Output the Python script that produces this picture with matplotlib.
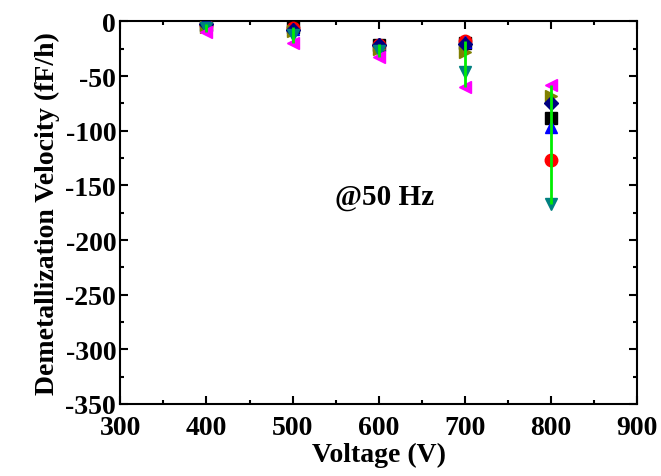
import matplotlib.pyplot as plt
from matplotlib.ticker import MultipleLocator

plt.rcParams['font.family'] = 'Liberation Serif'
plt.rcParams['font.weight'] = 'bold'
plt.rcParams['axes.unicode_minus'] = False

voltage = [400, 500, 600, 700, 800]

# demetallization velocity (fF/h) per sample
s_square = [-3, -5, -22, -20, -88]
s_circle = [-3, -6, -22, -18, -127]
s_uptri = [-2, -7, -21, -19, -97]
s_diamond = [-2, -8, -22, -21, -75]
s_right = [-5, -9, -25, -28, -68]
s_down = [-6, -12, -27, -46, -167]
s_left = [-10, -20, -33, -60, -58]

series = [
    (s_square, 's', 'black'),
    (s_circle, 'o', 'red'),
    (s_uptri, '^', 'blue'),
    (s_right, '>', '#808000'),
    (s_diamond, 'D', '#000080'),
    (s_down, 'v', '#008080'),
    (s_left, '<', 'magenta'),
]

fig, ax = plt.subplots(figsize=(6.61, 4.77), dpi=100)
fig.subplots_adjust(left=0.182, right=0.964, top=0.953, bottom=0.151)

for vals, m, c in series:
    ax.plot(voltage, vals, linestyle='none', marker=m, color=c,
            markersize=9 if m != 'D' else 7, zorder=3)

# range line (green) from max to min at every voltage
all_vals = [s[0] for s in series]
tops = [max(v[i] for v in all_vals) for i in range(len(voltage))]
bots = [min(v[i] for v in all_vals) for i in range(len(voltage))]
ax.vlines(voltage, bots, tops, color='#00ee00', linewidth=2, zorder=4)

ax.text(607, -160, '@50 Hz', fontsize=21, fontweight='bold', ha='center', va='center')

ax.set_xlim(300, 900)
ax.set_ylim(-350, 0)
ax.xaxis.set_major_locator(MultipleLocator(100))
ax.xaxis.set_minor_locator(MultipleLocator(50))
ax.yaxis.set_major_locator(MultipleLocator(50))
ax.yaxis.set_minor_locator(MultipleLocator(25))
ax.tick_params(which='both', direction='in', top=True, right=True, labelsize=20, width=1.5)
ax.tick_params(which='major', length=6)
ax.tick_params(which='minor', length=3)
ax.tick_params(axis='x', pad=8)
ax.tick_params(axis='y', pad=3)
for s in ax.spines.values():
    s.set_linewidth(1.5)

ax.set_xlabel('Voltage (V)', fontsize=20, fontweight='bold', labelpad=1)
ax.set_ylabel('Demetallization Velocity (fF/h)', fontsize=20, fontweight='bold', labelpad=4)

fig.savefig('out.png', dpi=100)
